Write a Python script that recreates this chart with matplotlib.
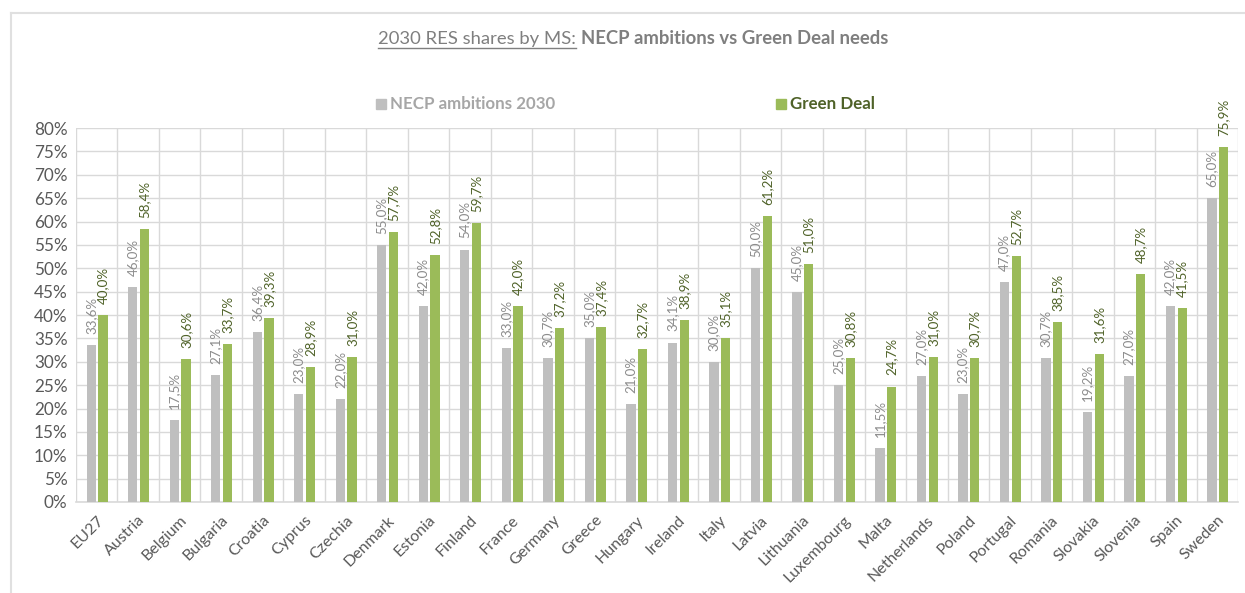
import matplotlib
matplotlib.use("Agg")
import matplotlib.pyplot as plt
from matplotlib.lines import Line2D
from matplotlib.patches import Rectangle
import numpy as np

countries = ["EU27", "Austria", "Belgium", "Bulgaria", "Croatia", "Cyprus", "Czechia",
             "Denmark", "Estonia", "Finland", "France", "Germany", "Greece", "Hungary",
             "Ireland", "Italy", "Latvia", "Lithuania", "Luxembourg", "Malta",
             "Netherlands", "Poland", "Portugal", "Romania", "Slovakia", "Slovenia",
             "Spain", "Sweden"]
necp = [33.6, 46.0, 17.5, 27.1, 36.4, 23.0, 22.0, 55.0, 42.0, 54.0, 33.0, 30.7, 35.0, 21.0,
        34.1, 30.0, 50.0, 45.0, 25.0, 11.5, 27.0, 23.0, 47.0, 30.7, 19.2, 27.0, 42.0, 65.0]
green_deal = [40.0, 58.4, 30.6, 33.7, 39.3, 28.9, 31.0, 57.7, 52.8, 59.7, 42.0, 37.2, 37.4, 32.7,
              38.9, 35.1, 61.2, 51.0, 30.8, 24.7, 31.0, 30.7, 52.7, 38.5, 31.6, 48.7, 41.5, 75.9]
series_names = ["NECP ambitions 2030", "Green Deal"]

plt.rcParams['font.family'] = ['Lato', 'DejaVu Sans']

GRAY = "#BFBFBF"
GREEN = "#9BBB59"
GRAY_TXT = "#8C8C8C"
GREEN_TXT = "#4F6228"
AX_TXT = "#595959"
GRID = "#D9D9D9"

fig = plt.figure(figsize=(12.45, 5.93), dpi=100)
ax = fig.add_axes([0.061, 0.1535, 0.9334, 0.6305])

n = len(countries)
x = np.arange(n)
w = 0.225
off_g, off_gr = -0.13, 0.155
ax.bar(x + off_g, np.array(necp) / 100, width=w, color=GRAY, zorder=3)
ax.bar(x + off_gr, np.array(green_deal) / 100, width=w, color=GREEN, zorder=3)

for xi, a, b in zip(x, necp, green_deal):
    ax.annotate(f"{a:.1f}%".replace(".", ","), (xi + off_g, a / 100), xytext=(0, 8),
                textcoords="offset points", rotation=90, ha="center", va="bottom",
                fontsize=9.6, color=GRAY_TXT, zorder=4)
    ax.annotate(f"{b:.1f}%".replace(".", ","), (xi + off_gr, b / 100), xytext=(0, 8),
                textcoords="offset points", rotation=90, ha="center", va="bottom",
                fontsize=9.6, color=GREEN_TXT, zorder=4)

ax.set_xlim(-0.5, n - 0.5)
ax.set_ylim(0, 0.8)
ax.set_yticks(np.arange(0, 0.81, 0.05))
ax.set_yticklabels([f"{int(round(v*100))}%" for v in np.arange(0, 0.81, 0.05)],
                   fontsize=12.3, color=AX_TXT)
ax.set_xticks(x)
ax.set_xticklabels(countries, rotation=45, ha="right", rotation_mode="anchor",
                   fontsize=11.5, color=AX_TXT)
ax.tick_params(axis="both", length=0)
ax.tick_params(axis="x", pad=8)
ax.tick_params(axis="y", pad=6)

ax.set_xticks(np.arange(-0.5, n, 1.0), minor=True)
ax.grid(axis="y", which="major", color=GRID, linewidth=1, zorder=0)
ax.grid(axis="x", which="minor", color=GRID, linewidth=1, zorder=0)
ax.grid(axis="x", which="major", visible=False)
ax.tick_params(axis="x", which="minor", length=0)
for s in ["top", "right", "left"]:
    ax.spines[s].set_visible(False)
ax.spines["bottom"].set_color(GRID)
ax.spines["bottom"].set_linewidth(1.2)

# figure frame
fig.add_artist(Line2D([11/1245, 11/1245], [0, 1 - 13/593], color="#E0E0E0", lw=1.5,
                      transform=fig.transFigure))
fig.add_artist(Line2D([11/1245, 1], [1 - 13/593, 1 - 13/593], color="#E0E0E0", lw=1.5,
                      transform=fig.transFigure))

# title
TITLE_C = "#7F7F7F"
fig.canvas.draw()
r = fig.canvas.get_renderer()
t1 = fig.text(378/1245, 1 - 39/593, "2030 RES shares by MS:", fontsize=13.3, color=TITLE_C,
              ha="left", va="center")
bb1 = t1.get_window_extent(r)
t2 = fig.text((bb1.x1 + 5)/1245, 1 - 39/593, "NECP ambitions vs Green Deal needs",
              fontsize=13.3, color=TITLE_C, fontweight="bold", ha="left", va="center")
uy = (bb1.y0 - 1) / 593
fig.add_artist(Line2D([bb1.x0/1245, bb1.x1/1245], [uy, uy], color=TITLE_C, lw=1,
                      transform=fig.transFigure))

# legend
ly = 1 - 104/593
fig.add_artist(Rectangle((376/1245, ly - 5/593), 10/1245, 10/593, color=GRAY,
                         transform=fig.transFigure))
fig.text(390/1245, ly, series_names[0], fontsize=12.2, color="#A6A6A6", fontweight="bold",
         ha="left", va="center")
fig.add_artist(Rectangle((776/1245, ly - 5/593), 10/1245, 10/593, color=GREEN,
                         transform=fig.transFigure))
fig.text(790/1245, ly, series_names[1], fontsize=12.2, color=GREEN_TXT, fontweight="bold",
         ha="left", va="center")

fig.savefig("out.png", dpi=100, facecolor="white")
